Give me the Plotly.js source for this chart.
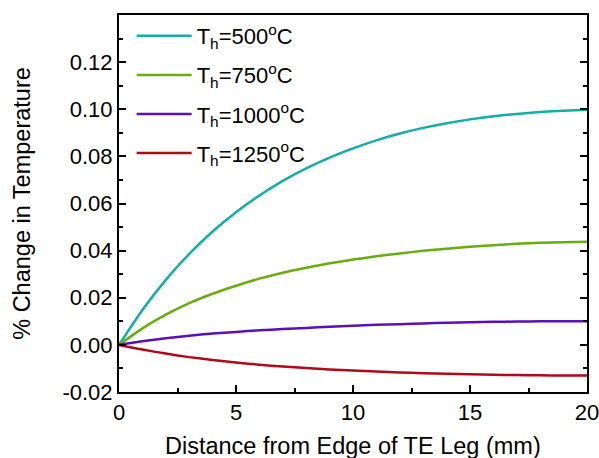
<!DOCTYPE html>
<html>
<head>
<meta charset="utf-8">
<script src="https://cdn.plot.ly/plotly-3.0.1.min.js"></script>
<style>html,body{margin:0;padding:0;background:#fff;}#chart{width:599px;height:458px;}</style>
</head>
<body>
<div id="chart"></div>
<script>
const distance = [0,1,2,3,4,5,6,7,8,9,10,11,12,13,14,15,16,17,18,19,20];
const th500  = [0, 0.0148, 0.0276, 0.0386, 0.0481, 0.0563, 0.0634, 0.0696, 0.0749, 0.0795, 0.0834, 0.0868, 0.0897, 0.0921, 0.0941, 0.0957, 0.0970, 0.0980, 0.0988, 0.0994, 0.0998];
const th750  = [0, 0.0070, 0.0128, 0.0177, 0.0217, 0.0251, 0.0281, 0.0306, 0.0327, 0.0346, 0.0362, 0.0376, 0.0388, 0.0399, 0.0408, 0.0416, 0.0423, 0.0429, 0.0433, 0.0436, 0.0438];
const th1000 = [0, 0.0015, 0.0028, 0.0039, 0.0048, 0.0055, 0.0062, 0.0067, 0.0072, 0.0077, 0.0081, 0.0085, 0.0088, 0.0091, 0.0094, 0.0096, 0.0098, 0.0099, 0.0100, 0.0100, 0.0100];
const th1250 = [0, -0.0020, -0.0037, -0.0052, -0.0064, -0.0075, -0.0084, -0.0092, -0.0098, -0.0104, -0.0109, -0.0113, -0.0117, -0.0120, -0.0123, -0.0125, -0.0127, -0.0128, -0.0129, -0.0130, -0.0130];
const seriesNames = ['T<sub>h</sub>=500<sup>o</sup>C','T<sub>h</sub>=750<sup>o</sup>C','T<sub>h</sub>=1000<sup>o</sup>C','T<sub>h</sub>=1250<sup>o</sup>C'];
const yTickVals = [-0.02, 0, 0.02, 0.04, 0.06, 0.08, 0.10, 0.12];
const yTickText = ['-0.02','0.00','0.02','0.04','0.06','0.08','0.10','0.12'];
const xTickVals = [0,5,10,15,20];
const xTickText = ['0','5','10','15','20'];
const xTitle = 'Distance from Edge of TE Leg (mm)';
const yTitle = '% Change in Temperature';

const colors = ['#14ADA8','#68AD10','#5A10B8','#AE0A18'];
const ys = [th500, th750, th1000, th1250];
const traces = ys.map((y,i)=>({
  x: distance, y: y, type:'scatter', mode:'lines', name: seriesNames[i],
  legendgroup:'g'+i,
  line:{color:colors[i], width:2.5, shape:'spline', smoothing:0.6}
}));
const font = 'Liberation Sans, Arial, sans-serif';
const layout = {
  width:599, height:458,
  margin:{l:119, r:12, t:15, b:66},
  paper_bgcolor:'#fff', plot_bgcolor:'#fff',
  font:{family:font, color:'#000', size:22},
  showlegend:true,
  legend:{x:0.027, y:1.0, xanchor:'left', yanchor:'top', bgcolor:'rgba(0,0,0,0)', borderwidth:0,
          font:{family:font, size:22, color:'#000'}, itemwidth:55, tracegroupgap:7.5},
  annotations:[{text:xTitle, xref:'paper', yref:'paper', x:0.5, y:-0.143, xanchor:'center', yanchor:'middle',
                showarrow:false, font:{size:23.5, family:font, color:'#000'}}],
  xaxis:{range:[0,20], tickmode:'array', tickvals:xTickVals, ticktext:xTickText,
         ticks:'inside', ticklen:7, tickwidth:2, tickcolor:'#000', ticklabeloverflow:'allow',
         minor:{dtick:2.5, tick0:0, ticks:'inside', ticklen:4, tickwidth:2, tickcolor:'#000'},
         showline:true, linewidth:2, linecolor:'#000', mirror:true, showgrid:false, zeroline:false,
         tickfont:{size:22, family:font}},
  yaxis:{range:[-0.02,0.14], tickmode:'array', tickvals:yTickVals, ticktext:yTickText,
         ticks:'inside', ticklen:7, tickwidth:2, tickcolor:'#000',
         minor:{dtick:0.01, tick0:0, ticks:'inside', ticklen:4, tickwidth:2, tickcolor:'#000'},
         showline:true, linewidth:2, linecolor:'#000', mirror:'ticks', showgrid:false, zeroline:false,
         tickfont:{size:22, family:font},
         title:{text:yTitle, font:{size:23.5, family:font}, standoff:25}}
};
Plotly.newPlot('chart', traces, layout, {staticPlot:true, displayModeBar:false});
</script>
</body>
</html>
